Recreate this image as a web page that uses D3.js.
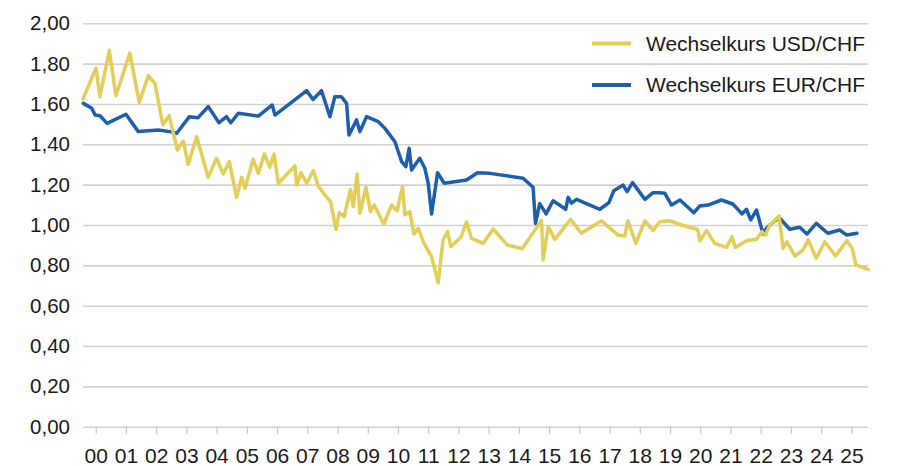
<!DOCTYPE html>
<html>
<head>
<meta charset="utf-8">
<script src="https://cdn.jsdelivr.net/npm/d3@7"></script>
<style>
	body { margin: 0; background: #fff; }
	svg { display: block; }
</style>
</head>
<body>
<svg id="chart" width="899" height="466"></svg>
<script>
// Wechselkurse in CHF, Zeitachse in Dezimaljahren
var usdYears = [1999.58, 2000.01, 2000.14, 2000.45, 2000.67, 2001.13, 2001.44, 2001.74, 2001.96, 2002.22,
	2002.43, 2002.70, 2002.90, 2003.06, 2003.34, 2003.72, 2004.00, 2004.22, 2004.42, 2004.66,
	2004.83, 2004.94, 2005.21, 2005.38, 2005.58, 2005.76, 2005.90, 2006.04, 2006.59, 2006.65,
	2006.79, 2006.98, 2007.20, 2007.36, 2007.58, 2007.77, 2007.95, 2008.06, 2008.22, 2008.43,
	2008.52, 2008.65, 2008.74, 2008.94, 2009.09, 2009.21, 2009.53, 2009.79, 2009.97, 2010.15,
	2010.23, 2010.39, 2010.53, 2010.67, 2010.86, 2011.11, 2011.33, 2011.49, 2011.64, 2011.75,
	2012.08, 2012.27, 2012.43, 2012.82, 2013.15, 2013.62, 2014.11, 2014.75, 2014.80, 2014.97,
	2015.19, 2015.71, 2016.07, 2016.73, 2017.28, 2017.50, 2017.61, 2017.87, 2018.17, 2018.44,
	2018.66, 2018.99, 2019.38, 2019.91, 2019.99, 2020.21, 2020.48, 2020.87, 2021.05, 2021.16,
	2021.53, 2021.86, 2022.04, 2022.16, 2022.30, 2022.61, 2022.74, 2022.87, 2023.13, 2023.40,
	2023.57, 2023.84, 2024.12, 2024.48, 2024.85, 2025.03, 2025.15, 2025.55];
var usdValues = [1.625, 1.777, 1.636, 1.866, 1.641, 1.852, 1.608, 1.740, 1.703, 1.496,
	1.542, 1.372, 1.416, 1.301, 1.438, 1.237, 1.331, 1.253, 1.314, 1.137,
	1.237, 1.182, 1.326, 1.256, 1.352, 1.286, 1.352, 1.207, 1.293, 1.198,
	1.259, 1.207, 1.270, 1.193, 1.149, 1.116, 0.979, 1.061, 1.041, 1.177,
	1.091, 1.253, 1.058, 1.187, 1.066, 1.099, 1.005, 1.099, 1.071, 1.190,
	1.050, 1.066, 0.955, 0.984, 0.909, 0.843, 0.714, 0.926, 0.967, 0.892,
	0.939, 1.016, 0.934, 0.909, 0.980, 0.901, 0.882, 1.023, 0.826, 0.992,
	0.929, 1.028, 0.959, 1.021, 0.950, 0.945, 1.021, 0.909, 1.021, 0.972,
	1.016, 1.021, 1.000, 0.979, 0.922, 0.972, 0.909, 0.889, 0.942, 0.889,
	0.922, 0.929, 0.967, 0.950, 1.000, 1.045, 0.884, 0.917, 0.846, 0.876,
	0.926, 0.835, 0.917, 0.846, 0.922, 0.884, 0.802, 0.780];

var eurYears = [1999.59, 1999.87, 1999.98, 2000.14, 2000.38, 2001.00, 2001.41, 2002.07, 2002.46, 2002.68,
	2003.10, 2003.39, 2003.72, 2004.08, 2004.33, 2004.47, 2004.72, 2005.38, 2005.84, 2005.93,
	2006.98, 2007.19, 2007.47, 2007.75, 2007.91, 2008.13, 2008.30, 2008.38, 2008.63, 2008.74,
	2008.96, 2009.35, 2009.57, 2009.90, 2010.12, 2010.26, 2010.37, 2010.45, 2010.72, 2010.89,
	2011.00, 2011.11, 2011.31, 2011.53, 2012.27, 2012.63, 2013.04, 2014.14, 2014.47, 2014.55,
	2014.69, 2014.90, 2015.13, 2015.55, 2015.63, 2015.74, 2015.91, 2016.68, 2016.98, 2017.14,
	2017.45, 2017.58, 2017.76, 2018.17, 2018.44, 2018.66, 2018.83, 2019.05, 2019.33, 2019.79,
	2019.98, 2020.26, 2020.70, 2021.08, 2021.38, 2021.53, 2021.67, 2021.86, 2022.08, 2022.19,
	2022.30, 2022.61, 2022.96, 2023.29, 2023.53, 2023.84, 2024.22, 2024.61, 2024.85, 2025.18];
var eurValues = [1.603, 1.579, 1.545, 1.542, 1.504, 1.549, 1.463, 1.471, 1.463, 1.455,
	1.537, 1.532, 1.587, 1.507, 1.537, 1.507, 1.554, 1.540, 1.595, 1.545,
	1.666, 1.622, 1.666, 1.537, 1.636, 1.636, 1.603, 1.446, 1.521, 1.463,
	1.537, 1.512, 1.479, 1.413, 1.314, 1.289, 1.380, 1.273, 1.331, 1.281,
	1.207, 1.055, 1.259, 1.207, 1.223, 1.259, 1.256, 1.232, 1.187, 1.008,
	1.106, 1.055, 1.120, 1.078, 1.137, 1.108, 1.127, 1.078, 1.111, 1.170,
	1.198, 1.165, 1.210, 1.127, 1.160, 1.160, 1.157, 1.099, 1.124, 1.061,
	1.094, 1.099, 1.124, 1.104, 1.055, 1.078, 1.025, 1.074, 0.955, 0.984,
	1.000, 1.038, 0.979, 0.989, 0.955, 1.008, 0.959, 0.975, 0.950, 0.959];

var yTicks = [0, 0.2, 0.4, 0.6, 0.8, 1.0, 1.2, 1.4, 1.6, 1.8, 2.0];
var xTicks = d3.range(2000, 2026);
var seriesNames = ["Wechselkurs USD/CHF", "Wechselkurs EUR/CHF"];
var seriesColors = ["#e3cf57", "#1f5ea8"];

var font = "'Liberation Sans', Arial, sans-serif";
var plotLeft = 83, plotRight = 868, plotTop = 23.3, plotBottom = 426.7;

var svg = d3.select("#chart");

var x = d3.scaleLinear()
	.domain([1999.58, 2025.55])
	.range([plotLeft, plotRight]);

var y = d3.scaleLinear()
	.domain([0, 2])
	.range([plotBottom, plotTop]);

// Gitterlinien + y-Beschriftung
var yAxis = svg.append("g")
	.attr("transform", "translate(" + plotLeft + ",0)")
	.call(d3.axisLeft(y)
		.tickValues(yTicks)
		.tickSize(-(plotRight - plotLeft))
		.tickPadding(13)
		.tickFormat(function (d) { return d.toFixed(2).replace(".", ","); }));

yAxis.select(".domain").remove();
yAxis.selectAll("line")
	.style("stroke", "#d2d2cd")
	.style("stroke-width", 1.6);
yAxis.selectAll("text")
	.style("font-family", font)
	.style("font-size", "20.5px")
	.style("fill", "#1a1a1a");

// x-Achse
var xAxis = svg.append("g")
	.attr("transform", "translate(0," + plotBottom + ")")
	.call(d3.axisBottom(x)
		.tickValues(xTicks)
		.tickSize(7)
		.tickPadding(14)
		.tickFormat(function (d) { return String(d % 100).padStart(2, "0"); }));

xAxis.select(".domain").remove();
xAxis.selectAll("line")
	.style("stroke", "#c8c8c3")
	.style("stroke-width", 1.2);
xAxis.selectAll("text")
	.style("font-family", font)
	.style("font-size", "21px")
	.style("fill", "#1a1a1a");

var line = d3.line()
	.x(function (d) { return x(d[0]); })
	.y(function (d) { return y(d[1]); });

var series = [
	d3.zip(usdYears, usdValues),
	d3.zip(eurYears, eurValues)
];

// Gelb liegt über Blau
[1, 0].forEach(function (i) {
	svg.append("path")
	.datum(series[i])
	.attr("d", line)
	.style("fill", "none")
	.style("stroke", seriesColors[i])
	.style("stroke-width", 3.5)
	.style("stroke-linejoin", "round")
	.style("stroke-linecap", "round");
});

// Legende
var legend = svg.append("g");

seriesNames.forEach(function (name, i) {
	var ly = 43.5 + i * 41.5;

	legend.append("line")
	.attr("x1", 592)
	.attr("x2", 631)
	.attr("y1", ly)
	.attr("y2", ly)
	.style("stroke", seriesColors[i])
	.style("stroke-width", 4);

	legend.append("text")
	.attr("x", 646)
	.attr("y", ly + 7)
	.style("font-family", font)
	.style("font-size", "21px")
	.style("fill", "#1a1a1a")
	.text(name);
});
</script>
</body>
</html>
